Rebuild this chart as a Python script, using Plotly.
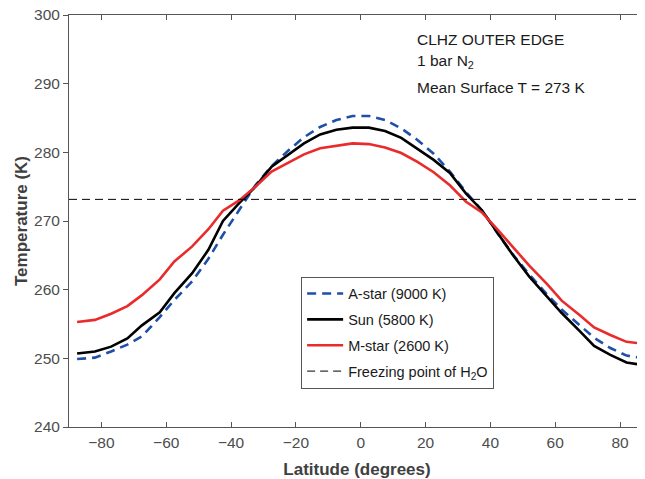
import plotly.graph_objects as go

# Latitude grid (degrees)
latitude = [-87.5, -82, -77, -72, -67.5, -62, -57.5, -52, -47, -42.5, -37.5, -32.5,
            -27.5, -22.5, -17.5, -12.5, -7.5, -2.5, 2.5, 7.5, 12.5, 17.5, 22.5, 27.5,
            32.5, 37.5, 42.5, 47, 52, 57.5, 62, 67.5, 72, 77, 82, 87.5]

a_star = [249.9, 250.1, 251.0, 252.0, 253.2, 256.0, 258.5, 261.2, 264.5, 268.0, 271.6, 275.2,
          278.0, 280.2, 282.2, 283.7, 284.7, 285.3, 285.3, 284.7, 283.5, 281.8, 279.8, 277.2,
          274.2, 271.5, 268.0, 265.1, 262.2, 259.3, 257.1, 254.8, 253.0, 251.5, 250.4, 250.0]

sun = [250.7, 251.0, 251.7, 252.9, 254.8, 256.7, 259.5, 262.4, 265.8, 270.0, 272.6, 275.0,
       277.9, 279.6, 281.3, 282.6, 283.3, 283.6, 283.6, 283.1, 282.1, 280.5, 278.9, 277.0,
       274.0, 271.5, 268.0, 265.0, 261.9, 259.0, 256.6, 254.0, 251.8, 250.5, 249.4, 249.0]

m_star = [255.3, 255.6, 256.5, 257.6, 259.2, 261.5, 264.1, 266.3, 268.8, 271.5, 273.0, 275.0,
          277.2, 278.5, 279.7, 280.6, 281.0, 281.3, 281.2, 280.7, 279.9, 278.6, 277.1, 275.2,
          272.8, 271.2, 268.6, 266.2, 263.5, 260.8, 258.4, 256.3, 254.5, 253.4, 252.4, 252.1]

freezing_point = 273.15
x_span = [-90, 90]

x_ticks = [-80, -60, -40, -20, 0, 20, 40, 60, 80]
y_ticks = [240, 250, 260, 270, 280, 290, 300]

FONT = "Liberation Sans, Arial, sans-serif"

fig = go.Figure()
fig.add_trace(go.Scatter(x=latitude, y=a_star, mode="lines", name="A-star (9000 K)",
                         legendgroup="a",
                         line=dict(color="#1f4fa6", width=2.6, dash="9px,6px")))
fig.add_trace(go.Scatter(x=latitude, y=sun, mode="lines", name="Sun (5800 K)",
                         legendgroup="b",
                         line=dict(color="#000000", width=2.6)))
fig.add_trace(go.Scatter(x=latitude, y=m_star, mode="lines", name="M-star (2600 K)",
                         legendgroup="c",
                         line=dict(color="#ea2b2b", width=2.6)))
fig.add_trace(go.Scatter(x=x_span, y=[freezing_point, freezing_point], mode="lines",
                         name="Freezing point of H<sub>2</sub>O",
                         legendgroup="d",
                         line=dict(color="#000000", width=1, dash="8px,5px")))

ann_font = dict(family=FONT, size=15.5, color="#1a1a1a")
for txt, yy in [("CLHZ OUTER EDGE", 0.941), ("1 bar N<sub>2</sub>", 0.886),
                ("Mean Surface T = 273 K", 0.824)]:
    fig.add_annotation(text=txt, xref="paper", yref="paper", x=0.6, y=yy,
                       xanchor="left", yanchor="middle", showarrow=False, font=ann_font)

# The page body adds an 8px offset, so the figure is sized to fill the rest of the window
fig.update_layout(
    width=637, height=471,
    margin=dict(l=61, r=0, t=7, b=52),
    paper_bgcolor="white", plot_bgcolor="white",
    font=dict(family=FONT, size=15, color="#404040"),
    showlegend=True,
    legend=dict(x=0.403, y=0.365, xanchor="left", yanchor="top",
                bgcolor="white", bordercolor="#555555", borderwidth=1,
                font=dict(family=FONT, size=14.5, color="#1a1a1a"),
                tracegroupgap=4, itemwidth=36),
    xaxis=dict(range=[-90, 87.7], tickvals=x_ticks, ticks="inside", ticklen=5,
               tickcolor="#555555", showline=True, linecolor="#555555", linewidth=1,
               mirror="ticks", showgrid=False, zeroline=False, automargin=False,
               ticklabelstandoff=1, ticklabeloverflow="allow",
               tickfont=dict(family=FONT, size=15.5, color="#4d4d4d"),
               title=dict(text="<b>Latitude (degrees)</b>", standoff=15,
                          font=dict(family=FONT, size=17, color="#404040"))),
    yaxis=dict(range=[240, 300], tickvals=y_ticks, ticks="outside", ticklen=5,
               tickcolor="#555555", showline=True, linecolor="#555555", linewidth=1,
               mirror=False, showgrid=False, zeroline=False, automargin=False,
               ticklabeloverflow="allow",
               tickfont=dict(family=FONT, size=15.5, color="#4d4d4d"),
               title=dict(text="<b>Temperature (K)</b>", standoff=2,
                          font=dict(family=FONT, size=17, color="#404040"))),
)

fig.write_html("out.html")
